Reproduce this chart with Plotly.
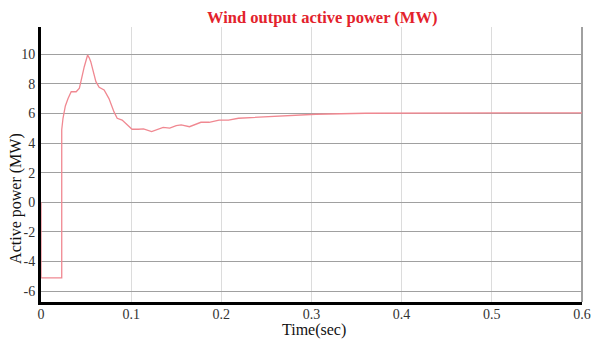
import plotly.graph_objects as go

# Wind turbine output active power during the start-up transient
time_s = [0.0, 0.0, 0.023, 0.023, 0.0244, 0.027, 0.030, 0.0335, 0.039, 0.0426,
          0.048, 0.0500, 0.0517, 0.0535, 0.0552, 0.0609, 0.0645, 0.070, 0.0754,
          0.081, 0.0845, 0.090, 0.0954, 0.101, 0.108, 0.1137, 0.1227, 0.130,
          0.1355, 0.1428, 0.150, 0.1555, 0.1647, 0.1774, 0.1865, 0.1975, 0.208,
          0.219, 0.239, 0.2685, 0.305, 0.36, 0.42, 0.5, 0.6]
power_mw = [0.0, -5.1, -5.1, 4.9, 5.67, 6.5, 7.0, 7.46, 7.46, 7.7,
            9.15, 9.7, 9.94, 9.75, 9.49, 8.14, 7.76, 7.58, 7.0,
            6.1, 5.67, 5.55, 5.22, 4.93, 4.93, 4.95, 4.77, 4.93,
            5.06, 5.0, 5.17, 5.22, 5.1, 5.4, 5.4, 5.55, 5.55,
            5.67, 5.73, 5.84, 5.94, 6.01, 6.03, 6.04, 6.04]

x_ticks = [0, 0.1, 0.2, 0.3, 0.4, 0.5, 0.6]
x_tick_text = ["0", "0.1", "0.2", "0.3", "0.4", "0.5", "0.6"]
y_ticks = [-6, -4, -2, 0, 2, 4, 6, 8, 10]
y_tick_text = ["-6", "-4", "-2", "0", "2", "4", "6", "8", "10"]

serif = "Liberation Serif, Times New Roman, serif"
tick_font = dict(family=serif, size=14, color="#333333")

fig = go.Figure()
fig.add_trace(go.Scatter(
    x=time_s, y=power_mw, mode="lines",
    line=dict(color="#f08891", width=1.3),
    showlegend=False,
))

fig.update_layout(
    width=597, height=341,
    margin=dict(l=41, r=6, t=27, b=39),
    paper_bgcolor="white", plot_bgcolor="white",
    font=dict(family=serif, color="#333333", size=14),
    annotations=[
        dict(text="<b>Wind output active power (MW)</b>", xref="paper", yref="paper",
             x=0.52, y=1.0, yshift=10, xanchor="center", yanchor="middle",
             showarrow=False, font=dict(family=serif, size=16.5, color="#e3222c")),
        dict(text="Active power (MW)", xref="paper", yref="paper",
             x=0, xshift=-25, y=0.375, xanchor="center", yanchor="middle",
             textangle=-90, showarrow=False,
             font=dict(family=serif, size=16, color="#111111")),
        dict(text="Time(sec)", xref="paper", yref="paper",
             x=0.505, y=0, yshift=-17, xanchor="center", yanchor="top",
             showarrow=False, font=dict(family=serif, size=16, color="#111111")),
    ],
)

fig.update_xaxes(
    range=[0, 0.6001], tickvals=x_ticks, ticktext=x_tick_text, tickfont=tick_font,
    showgrid=True, gridcolor="#dcdcdc", gridwidth=1,
    showline=True, linecolor="black", linewidth=3,
    mirror=False, zeroline=False, ticks="", layer="below traces",
    ticklabelstandoff=-3, ticklabeloverflow="allow",
)
fig.update_yaxes(
    range=[-6.73, 11.83], tickvals=y_ticks, ticktext=y_tick_text, tickfont=tick_font,
    showgrid=True, gridcolor="#a0a0a0", gridwidth=1,
    showline=True, linecolor="black", linewidth=3,
    zeroline=False, ticks="", layer="below traces", ticklabelstandoff=0,
)

# thin grey frame on the right-hand side of the plot area
fig.add_shape(type="line", xref="paper", yref="paper", x0=1, x1=1, y0=0, y1=1,
              line=dict(color="#808080", width=1.5), layer="below")

fig.write_html("out.html")
